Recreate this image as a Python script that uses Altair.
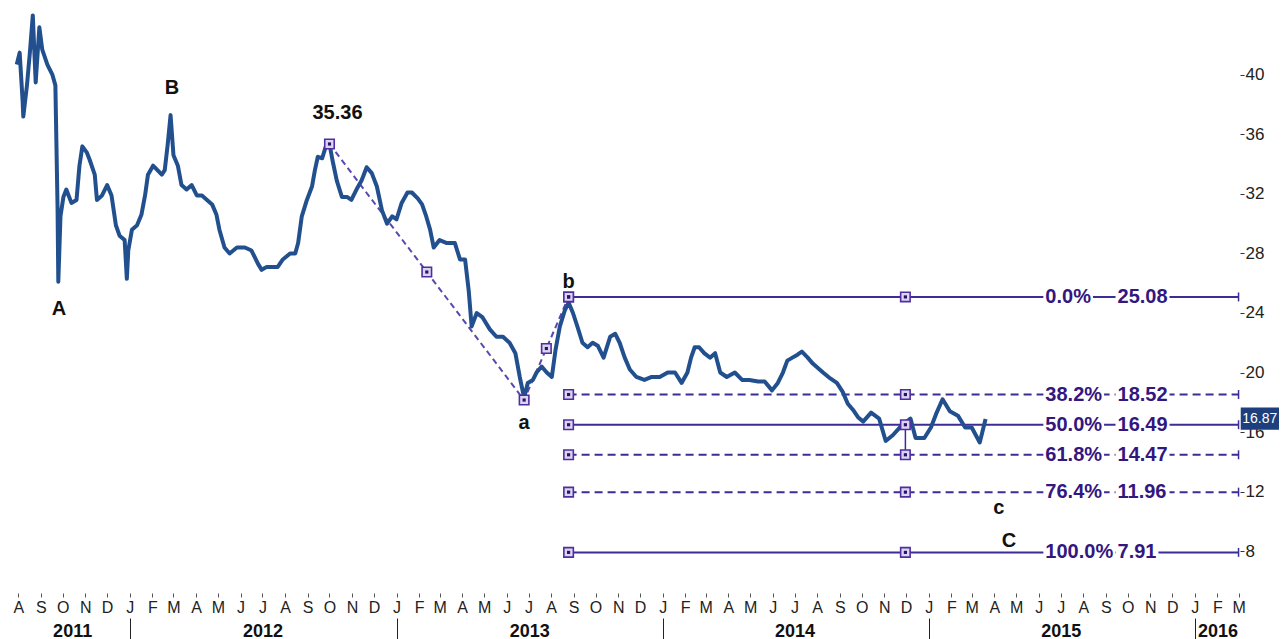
import altair as alt
import pandas as pd

# ---------------- data ----------------
price_dates = [
    "2011-07-30", "2011-08-03", "2011-08-07", "2011-08-08", "2011-08-13", "2011-08-17", "2011-08-21",
    "2011-08-25", "2011-08-30", "2011-09-03", "2011-09-10", "2011-09-17", "2011-09-21", "2011-09-24",
    "2011-09-25", "2011-09-28", "2011-10-02", "2011-10-06", "2011-10-13", "2011-10-20", "2011-10-24",
    "2011-10-28", "2011-11-03", "2011-11-07", "2011-11-14", "2011-11-17", "2011-11-24", "2011-12-01",
    "2011-12-07", "2011-12-13", "2011-12-18", "2011-12-25", "2011-12-28", "2011-12-30",
    "2012-01-04", "2012-01-11", "2012-01-17", "2012-01-22", "2012-01-26", "2012-02-02", "2012-02-08",
    "2012-02-14", "2012-02-18", "2012-02-22", "2012-02-26", "2012-03-01", "2012-03-07", "2012-03-12",
    "2012-03-19", "2012-03-26", "2012-04-02", "2012-04-09", "2012-04-16", "2012-04-23", "2012-04-29",
    "2012-05-03", "2012-05-10", "2012-05-17", "2012-05-27", "2012-06-07", "2012-06-16", "2012-06-25",
    "2012-06-30", "2012-07-07", "2012-07-14", "2012-07-22", "2012-07-29", "2012-08-08", "2012-08-15",
    "2012-08-19", "2012-08-24", "2012-08-31", "2012-09-07", "2012-09-11", "2012-09-15", "2012-09-21",
    "2012-09-26", "2012-10-01", "2012-10-05", "2012-10-11", "2012-10-18", "2012-10-25", "2012-10-31",
    "2012-11-07", "2012-11-14", "2012-11-21", "2012-11-28", "2012-12-05", "2012-12-12", "2012-12-19",
    "2012-12-26",
    "2013-01-01", "2013-01-08", "2013-01-16", "2013-01-22", "2013-01-30", "2013-02-05", "2013-02-10",
    "2013-02-16", "2013-02-21", "2013-03-01", "2013-03-11", "2013-03-22", "2013-03-29", "2013-04-05",
    "2013-04-10", "2013-04-14", "2013-04-21", "2013-04-29", "2013-05-09", "2013-05-18", "2013-05-27",
    "2013-06-05", "2013-06-13", "2013-06-19", "2013-06-25", "2013-06-30", "2013-07-07", "2013-07-12",
    "2013-07-19", "2013-07-26", "2013-08-02", "2013-08-07", "2013-08-13", "2013-08-20", "2013-08-25",
    "2013-08-31", "2013-09-06", "2013-09-13", "2013-09-20", "2013-09-27", "2013-10-04", "2013-10-12",
    "2013-10-21", "2013-10-28", "2013-11-03", "2013-11-10", "2013-11-17", "2013-11-26", "2013-12-07",
    "2013-12-17", "2013-12-28",
    "2014-01-08", "2014-01-18", "2014-01-27", "2014-02-04", "2014-02-09", "2014-02-14", "2014-02-20",
    "2014-02-27", "2014-03-07", "2014-03-14", "2014-03-21", "2014-03-30", "2014-04-10", "2014-04-20",
    "2014-04-30", "2014-05-12", "2014-05-21", "2014-05-31", "2014-06-08", "2014-06-15", "2014-06-21",
    "2014-06-28", "2014-07-05", "2014-07-11", "2014-07-19", "2014-07-26", "2014-08-02", "2014-08-09",
    "2014-08-19", "2014-08-28", "2014-09-05", "2014-09-12", "2014-09-19", "2014-09-26", "2014-10-03",
    "2014-10-14", "2014-10-25", "2014-11-03", "2014-11-13", "2014-11-24", "2014-12-07", "2014-12-14",
    "2014-12-26",
    "2015-01-04", "2015-01-11", "2015-01-20", "2015-01-30", "2015-02-10", "2015-02-20", "2015-03-01",
    "2015-03-12", "2015-03-20",
]
price_values = [
    40.7, 41.5, 38.3, 37.2, 39.3, 41.5, 44.0,
    39.5, 43.2, 41.7, 40.7, 40.0, 39.3, 31.0,
    26.1, 30.5, 31.8, 32.3, 31.4, 31.6, 33.9,
    35.2, 34.8, 34.3, 33.3, 31.6, 31.9, 32.6,
    31.9, 29.9, 29.2, 28.9, 26.3, 28.2,
    29.6, 29.9, 30.6, 31.9, 33.3, 33.9, 33.6,
    33.3, 33.6, 35.3, 37.3, 34.6, 33.9, 32.6,
    32.3, 32.6, 31.9, 31.9, 31.6, 31.3, 30.6,
    29.6, 28.4, 28.0, 28.4, 28.4, 28.2, 27.3,
    26.9, 27.1, 27.1, 27.1, 27.6, 28.0, 28.0,
    28.7, 30.5, 31.6, 32.5, 33.6, 34.5, 34.4,
    35.2, 35.36, 34.3, 32.9, 31.8, 31.8, 31.6,
    32.3, 32.9, 33.8, 33.4, 32.5, 30.9, 30.0,
    30.5,
    30.3, 31.4, 32.1, 32.1, 31.7, 31.3, 30.6,
    29.6, 28.4, 28.9, 28.7, 28.7, 27.6, 27.6,
    25.5, 23.1, 24.0, 23.7, 22.9, 22.4, 22.4,
    22.0, 21.3, 19.7, 18.3, 19.3, 19.5, 20.0,
    20.4, 20.0, 19.7, 21.5, 23.1, 24.2, 24.7,
    24.0, 23.1, 22.0, 21.7, 22.0, 21.8, 21.0,
    22.4, 22.6, 22.0, 21.0, 20.2, 19.7, 19.5,
    19.7, 19.7,
    20.0, 20.0, 19.3, 20.0, 21.0, 21.7, 21.7,
    21.3, 21.0, 21.3, 20.0, 19.7, 20.0, 19.5,
    19.5, 19.4, 19.4, 18.8, 19.3, 20.0, 20.8,
    21.0, 21.2, 21.4, 21.0, 20.6, 20.3, 20.0,
    19.6, 19.3, 18.7, 17.9, 17.5, 17.0, 16.7,
    17.3, 16.9, 15.4, 15.8, 16.4, 16.9, 15.6,
    15.6,
    16.3, 17.2, 18.2, 17.4, 17.1, 16.3, 16.3,
    15.3, 16.87,
]

fib_pcts = ["0.0%", "38.2%", "50.0%", "61.8%", "76.4%", "100.0%"]
fib_values = [25.08, 18.52, 16.49, 14.47, 11.96, 7.91]
fib_dashed = [False, True, False, True, True, False]
fib_start = "2013-08-25"
fib_mid = "2014-11-30"
fib_end = "2016-03-01"
fib_pct_at = "2015-06-10"
fib_val_at = "2015-09-17"

swing_dates = ["2012-10-01", "2013-06-25", "2013-08-25"]
swing_values = [35.36, 18.15, 25.08]

wave_labels = ["A", "B", "35.36", "a", "b", "c", "C"]
wave_dates = ["2011-09-26", "2012-02-28", "2012-10-12", "2013-06-25", "2013-08-25", "2015-04-07", "2015-04-21"]
wave_values = [24.3, 39.1, 37.45, 16.6, 26.1, 10.9, 8.7]

last_label = "16.87"
last_value = 16.87
last_box_dates = ["2016-03-04", "2016-05-05"]

y_ticks = [8, 12, 16, 20, 24, 28, 32, 36, 40]
year_labels = ["2011", "2012", "2013", "2014", "2015", "2016"]
year_label_dates = ["2011-10-14", "2012-07-01", "2013-07-02", "2014-07-01", "2015-07-01", "2016-02-01"]
year_break_dates = ["2012-01-01", "2013-01-01", "2014-01-01", "2015-01-01", "2016-01-01"]
month_first = "2011-08-01"
month_last = "2016-03-01"

# ---------------- layout / style ----------------
W, H = 1232, 585
PAD_RIGHT, PAD_BOTTOM = 39, 46
X_START, X_STOP = "2011-07-18", "2016-03-03"
Y_DOMAIN = [5.18, 44.5]
LINE = "#3d2c96"
TXT = "#34167f"
PRICE = "#22508f"
FONT = "Liberation Sans"
NARROW = "Liberation Sans Narrow, Liberation Sans"


def dt(s):
    t = pd.Timestamp(s)
    return alt.DateTime(year=t.year, month=t.month, date=t.day, utc=True)


X_DOMAIN = [dt(X_START), dt(X_STOP)]
DAYS_PER_PX = (pd.Timestamp(X_STOP) - pd.Timestamp(X_START)).days / W


def X(field, axis=None):
    return alt.X(f"{field}:T", scale=alt.Scale(type="utc", domain=X_DOMAIN), axis=axis, title=None)


def Y(field, axis=None):
    return alt.Y(f"{field}:Q", scale=alt.Scale(domain=Y_DOMAIN, nice=False, zero=False), axis=axis, title=None)


def iso(ts):
    return ts.strftime("%Y-%m-%dT%H:%M:%SZ")


month_ticks = [dt(d) for d in pd.date_range(month_first, month_last, freq="MS")]

month_axis = alt.Axis(
    orient="bottom", values=month_ticks,
    labelExpr="slice(utcFormat(datum.value, '%b'), 0, 1)",
    tickSize=4, tickColor="#555", tickWidth=1, domain=False, grid=False,
    labelFont=NARROW, labelFontSize=16, labelColor="#222", labelPadding=2,
    labelOverlap=False, labelFlush=False, labelAngle=0,
)
year_map = " : ".join(
    f"utcFormat(datum.value, '%Y-%m-%d') == '{d}' ? '{l}'" for d, l in zip(year_label_dates, year_labels)
) + " : ''"
year_axis = alt.Axis(
    orient="bottom", offset=27, values=[dt(d) for d in year_label_dates],
    labelExpr=year_map, ticks=False, domain=False, grid=False,
    labelFont=FONT, labelFontSize=18, labelFontWeight="bold", labelColor="#111",
    labelPadding=2, labelOverlap=False, labelFlush=False, labelAngle=0,
)
break_axis = alt.Axis(
    orient="bottom", offset=25, values=[dt(d) for d in year_break_dates],
    labels=False, tickSize=24, tickColor="#222", tickWidth=1, domain=False, grid=False,
)
y_axis = alt.Axis(
    orient="right", values=y_ticks, format="d", tickSize=4, tickColor="#333",
    domain=False, grid=False, labelFont=NARROW, labelFontSize=17, labelColor="#222",
    labelPadding=1,
)

# ---------------- tables ----------------
price_df = pd.DataFrame({"date": price_dates, "price": price_values})
fib_df = pd.DataFrame({
    "pct": fib_pcts, "value": fib_values, "dashed": fib_dashed,
    "start": fib_start, "end": fib_end, "mid": fib_mid,
    "pct_at": fib_pct_at, "val_at": fib_val_at,
    "label": [f"{v:.2f}" for v in fib_values],
})
fib_df["lo"] = fib_df["value"] - 0.3
fib_df["hi"] = fib_df["value"] + 0.3
swing_df = pd.DataFrame({"date": swing_dates, "value": swing_values})


def text_px(s):
    w = 0.0
    for ch in s:
        w += 5.6 if ch == "." else (17.8 if ch == "%" else 11.1)
    return w


def rect_rows(col_at, col_txt):
    rows = []
    for _, r in fib_df.iterrows():
        t0 = pd.Timestamp(r[col_at]) - pd.Timedelta(days=2.0 * DAYS_PER_PX)
        t1 = pd.Timestamp(r[col_at]) + pd.Timedelta(days=(text_px(r[col_txt]) + 2.0) * DAYS_PER_PX)
        rows.append({"x1": iso(t0), "x2": iso(t1), "y1": r["value"] - 0.55, "y2": r["value"] + 0.55})
    return rows


mask_df = pd.DataFrame(rect_rows("pct_at", "pct") + rect_rows("val_at", "label"))

sq_rows = [{"date": fib_start, "value": v} for v in fib_values]
sq_rows += [{"date": fib_mid, "value": v} for v in fib_values]
sq_rows += [{"date": d, "value": v} for d, v in zip(swing_dates, swing_values)]
p0, p1, p2 = [pd.Timestamp(d) for d in swing_dates]
sq_rows.append({"date": iso(p0 + (p1 - p0) / 2), "value": (swing_values[0] + swing_values[1]) / 2})
sq_rows.append({"date": iso(p1 + (p2 - p1) / 2), "value": (swing_values[1] + swing_values[2]) / 2})
sq_df = pd.DataFrame(sq_rows)

wave_df = pd.DataFrame({"label": wave_labels, "date": wave_dates, "value": wave_values})
b0 = pd.Timestamp(last_box_dates[0])
b_text = b0 + pd.Timedelta(days=1.5 * DAYS_PER_PX)
last_df = pd.DataFrame({
    "x1": [last_box_dates[0]], "x2": [last_box_dates[1]], "xt": [iso(b_text)],
    "y1": [last_value - 0.72], "y2": [last_value + 0.78], "value": [last_value], "label": [last_label],
})
vert_df = pd.DataFrame({"date": [fib_mid], "y1": [fib_values[2]], "y2": [fib_values[3]]})

# ---------------- layers ----------------
fib_solid = alt.Chart(fib_df[~fib_df["dashed"]]).mark_rule(color=LINE, strokeWidth=2).encode(
    x=X("start", year_axis), x2="end", y=Y("value"))
fib_dash = alt.Chart(fib_df[fib_df["dashed"]]).mark_rule(color=LINE, strokeWidth=2, strokeDash=[8, 5]).encode(
    x=X("start", break_axis), x2="end", y=Y("value"))
fib_caps = alt.Chart(fib_df).mark_rule(color=LINE, strokeWidth=1.5).encode(
    x=X("end"), y=Y("lo"), y2="hi")
diag = alt.Chart(swing_df).mark_line(color="#5a48b0", strokeWidth=2, strokeDash=[6, 4]).encode(
    x=X("date"), y=Y("value"))
price = alt.Chart(price_df).mark_line(color=PRICE, strokeWidth=4, strokeJoin="round").encode(
    x=X("date", month_axis), y=Y("price", y_axis))
vert = alt.Chart(vert_df).mark_rule(color=LINE, strokeWidth=1.5).encode(
    x=X("date"), y=Y("y1"), y2="y2")
mask = alt.Chart(mask_df).mark_rect(fill="white").encode(
    x=X("x1"), x2="x2", y=Y("y1"), y2="y2")
pct_text = alt.Chart(fib_df).mark_text(
    align="left", baseline="middle", font=FONT, fontSize=20, fontWeight="bold", color=TXT).encode(
    x=X("pct_at"), y=Y("value"), text="pct:N")
val_text = alt.Chart(fib_df).mark_text(
    align="left", baseline="middle", font=FONT, fontSize=20, fontWeight="bold", color=TXT).encode(
    x=X("val_at"), y=Y("value"), text="label:N")
sq_outer = alt.Chart(sq_df).mark_square(
    size=90, fill="#dcd5f2", stroke="#4f2f9f", strokeWidth=1.6, opacity=1).encode(
    x=X("date"), y=Y("value"))
sq_inner = alt.Chart(sq_df).mark_square(size=10, fill="#28126e", opacity=1).encode(
    x=X("date"), y=Y("value"))
waves = alt.Chart(wave_df).mark_text(
    align="center", baseline="middle", font=FONT, fontSize=20, fontWeight="bold", color="#111").encode(
    x=X("date"), y=Y("value"), text="label:N")
last_box = alt.Chart(last_df).mark_rect(fill="#1d3f7d").encode(
    x=X("x1"), x2="x2", y=Y("y1"), y2="y2")
last_text = alt.Chart(last_df).mark_text(
    align="left", baseline="middle", font=FONT, fontSize=14, color="white").encode(
    x=X("xt"), y=Y("value"), text="label:N")

chart = alt.layer(
    fib_solid, fib_dash, fib_caps, diag, price, vert, mask, pct_text, val_text,
    sq_outer, sq_inner, waves, last_box, last_text,
).resolve_scale(x="shared", y="shared").resolve_axis(x="independent", y="independent").properties(
    width=W, height=H, background="white",
    padding={"left": 0, "top": 0, "right": PAD_RIGHT, "bottom": PAD_BOTTOM},
    autosize=alt.AutoSizeParams(type="none"),
).configure_view(stroke=None)

chart.save("out.html", embed_options={"renderer": "svg", "actions": False})
